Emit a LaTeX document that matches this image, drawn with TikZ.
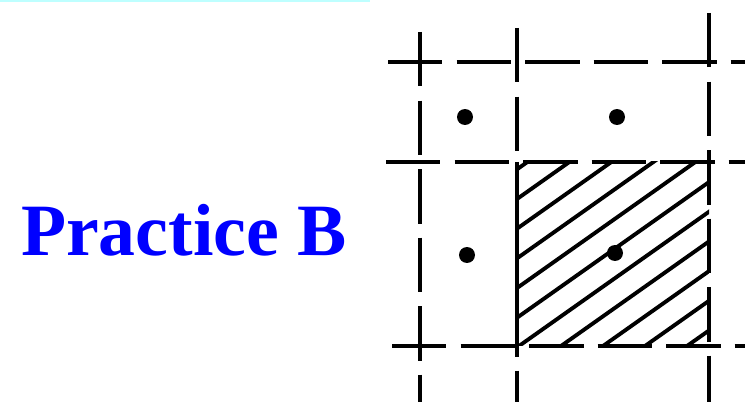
\documentclass[tikz,border=0pt]{standalone}
\usepackage{fontspec}
\setmainfont{Liberation Serif}
\definecolor{titleblue}{RGB}{0,0,255}
\definecolor{topcyan}{RGB}{190,255,255}
\begin{document}
\begin{tikzpicture}
[x=0.02cm,y=-0.02cm,
 gridline/.style={line width=2.8pt,dash pattern=on 31pt off 8pt},
 hatchline/.style={line width=2.2pt},
 dot/.style={circle,fill=black,inner sep=0pt,minimum size=0.32cm}]
\useasboundingbox (0,0) rectangle (745,402);
\fill[topcyan] (0,0) rectangle (370,2);
\node[text=titleblue,font=\fontsize{42}{48}\selectfont\bfseries] (title) at (184,230) {Practice B};
% grid
\def\xa{420} \def\xb{517} \def\xc{709}
\def\ya{62} \def\yb{162} \def\yc{346}
\draw[gridline] (388,\ya) -- (745,\ya);
\draw[gridline] (386,\yb) -- (745,\yb);
\draw[gridline] (392,\yc) -- (745,\yc);
\draw[gridline] (\xa,32) -- (\xa,402);
\draw[gridline] (\xb,28) -- (\xb,402);
\draw[gridline] (\xc,13) -- (\xc,402);
% hatched cell
\begin{scope}
  \clip (\xb,\yb) rectangle (\xc,\yc);
  \foreach \k in {-7,...,5}
  {
    \draw[hatchline] (\xb-40+42*\k,\yc) -- ++(300,-212);
  }
\end{scope}
\draw[line width=2.8pt] (\xb,\yb) -- (\xb,\yc);
% centre points
\node[dot] (p1) at (465,117) {};
\node[dot] (p2) at (617,117) {};
\node[dot] (p3) at (467,255) {};
\node[dot] (p4) at (615,253) {};
\end{tikzpicture}
\end{document}
